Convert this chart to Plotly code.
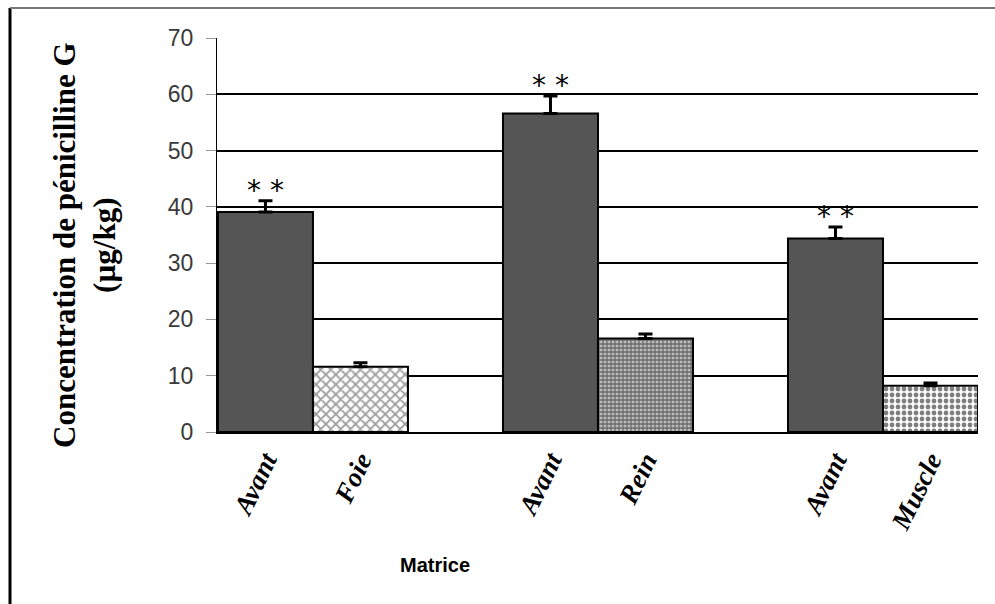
import plotly.graph_objects as go

# Concentration de pénicilline G (µg/kg) par matrice, avant / après
matrices = ["Foie", "Rein", "Muscle"]
avant_label = "Avant"
avant_vals = [39.1, 56.6, 34.4]
avant_err = [2.0, 3.1, 2.0]
matrice_vals = [11.6, 16.6, 8.2]
matrice_err = [0.7, 0.8, 0.5]
y_ticks = [0, 10, 20, 30, 40, 50, 60, 70]

# each group holds two adjacent unit-wide bars, groups separated by one empty slot
x_avant = [3 * g + 0.5 for g in range(len(matrices))]
x_mat = [3 * g + 1.5 for g in range(len(matrices))]

patterns = [
    dict(shape="x", size=7, solidity=0.45, fgcolor="#3a3a3a", bgcolor="#ffffff"),
    dict(shape="+", size=4, solidity=0.55, fgcolor="#1a1a1a", bgcolor="#bdbdbd"),
    dict(shape=".", size=6, solidity=0.5, fgcolor="#000000", bgcolor="#ffffff"),
]

fig = go.Figure()
fig.add_trace(go.Bar(
    x=x_avant, y=avant_vals, width=1.0,
    marker=dict(color="#555555", line=dict(color="#000000", width=2)),
    error_y=dict(type="data", array=avant_err, arrayminus=[0] * 3, symmetric=False,
                 color="#000000", thickness=3, width=7),
    showlegend=False,
))
for i in range(len(matrices)):
    fig.add_trace(go.Bar(
        x=[x_mat[i]], y=[matrice_vals[i]], width=1.0,
        marker=dict(color="#ffffff", pattern=patterns[i],
                    line=dict(color="#000000", width=2)),
        error_y=dict(type="data", array=[matrice_err[i]], arrayminus=[0], symmetric=False,
                     color="#000000", thickness=3, width=7),
        showlegend=False,
    ))

# significance marks above the "Avant" bars
for xv, v, e in zip(x_avant, avant_vals, avant_err):
    fig.add_annotation(x=xv, y=v + e, text="* *", showarrow=False,
                       xanchor="center", yanchor="bottom", yshift=-8,
                       font=dict(family="DejaVu Sans", size=28, color="#000000"))

tickvals = []
ticktext = []
for g, m in enumerate(matrices):
    tickvals += [x_avant[g], x_mat[g]]
    ticktext += [f"<b><i>{avant_label}</i></b>", f"<b><i>{m}</i></b>"]

L, R, T, B = 217, 17, 38, 172
W, H = 995, 604
pw, ph = W - L - R, H - T - B

fig.update_layout(
    width=W, height=H,
    margin=dict(l=L, r=R, t=T, b=B),
    paper_bgcolor="#ffffff", plot_bgcolor="#ffffff",
    barmode="overlay",
    xaxis=dict(
        range=[-0.01, 8.0], tickmode="array", tickvals=tickvals, ticktext=ticktext,
        tickangle=-64, showgrid=False, zeroline=False,
        showline=True, linecolor="#000000", linewidth=2,
        ticks="", ticklabelstandoff=0,
        tickfont=dict(family="Liberation Serif", size=27, color="#000000"),
    ),
    yaxis=dict(
        range=[0, 70], tickmode="array", tickvals=y_ticks,
        showgrid=True, gridcolor="#000000", gridwidth=1.5,
        zeroline=False, showline=True, linecolor="#000000", linewidth=1,
        ticks="outside", ticklen=10, tickcolor="#999999", ticklabelstandoff=8,
        tickfont=dict(family="Liberation Sans", size=23, color="#3a3a3a"),
    ),
)

# axis titles
fig.add_annotation(xref="paper", yref="paper",
                   x=(84 - L) / pw, y=(H - B - 245) / ph,
                   text="Concentration de pénicilline G<br>(µg/kg)",
                   textangle=-90, showarrow=False, xanchor="center", yanchor="middle",
                   font=dict(family="Liberation Serif", size=31, color="#000000",
                             weight="bold"))
fig.add_annotation(xref="paper", yref="paper",
                   x=(435 - L) / pw, y=(H - B - 565) / ph,
                   text="<b>Matrice</b>", showarrow=False, xanchor="center", yanchor="middle",
                   font=dict(family="Liberation Sans", size=20, color="#000000"))

# outer frame: left and top edges
fig.add_shape(type="line", xref="paper", yref="paper",
              x0=(10 - L) / pw, x1=(10 - L) / pw,
              y0=(H - B - 604) / ph, y1=(H - B - 8) / ph,
              line=dict(color="#000000", width=3))
fig.add_shape(type="line", xref="paper", yref="paper",
              x0=(10 - L) / pw, x1=(995 - L) / pw,
              y0=(H - B - 8) / ph, y1=(H - B - 8) / ph,
              line=dict(color="#777777", width=2))

fig.write_html("out.html")
